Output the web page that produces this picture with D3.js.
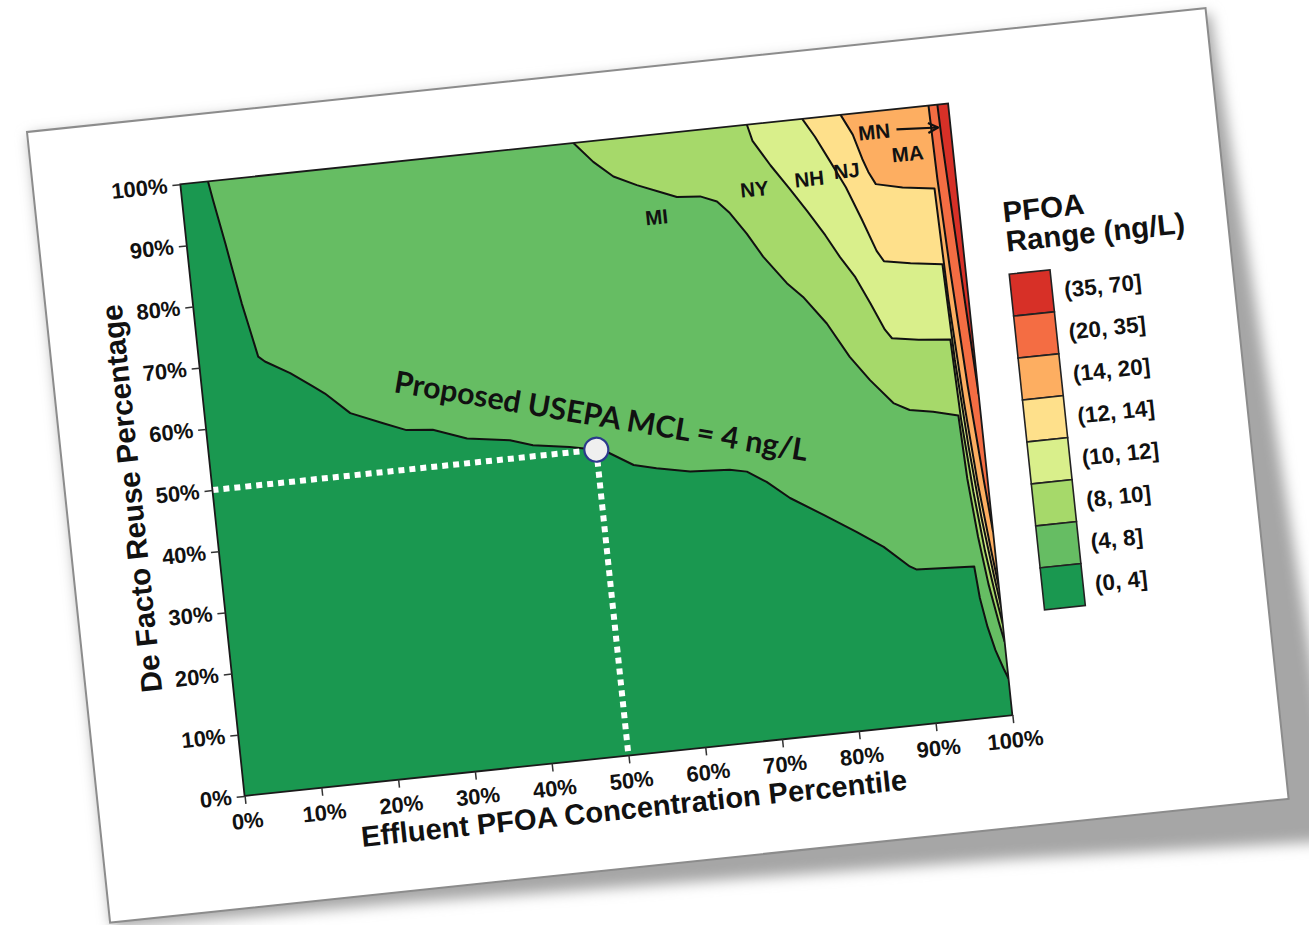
<!DOCTYPE html>
<html><head><meta charset="utf-8">
<script src="https://cdn.jsdelivr.net/npm/d3@7"></script>
<style>body{margin:0;background:#fff;overflow:hidden}svg{display:block}</style>
</head><body>
<svg id="chart" width="1309" height="925"></svg>
<script>
// ---------------- data ----------------
const xTicks = [0,10,20,30,40,50,60,70,80,90,100];
const yTicks = [0,10,20,30,40,50,60,70,80,90,100];
const levels = [4, 8, 10, 12, 14, 20, 35];
const binLabels = ["(0, 4]","(4, 8]","(8, 10]","(10, 12]","(12, 14]","(14, 20]","(20, 35]","(35, 70]"];

// contour lines: [effluent percentile %, reuse %]
const contour4 = [[3.6,100],[4.0,96.9],[5.0,89.7],[5.5,85.8],[6.3,79.7],[7.0,75.3],[7.7,70.8],[8.5,69.9],[11.6,67.6],[14.4,65.0],[15.8,63.7],[18.8,60.1],[22.9,57.9],[25.8,56.4],[29.2,56.0],[33.5,54.0],[39.0,53.0],[41.9,51.8],[46.6,50.9],[50,50],[51.3,49.5],[54.6,46.9],[57.5,46.0],[61.8,44.9],[66.9,44.5],[69.1,43.9],[71.5,41.9],[74.3,38.9],[78.4,35.6],[82.4,32.3],[85.7,29.4],[88.8,25.8],[89.6,25.2],[97.1,24.7],[97.4,19.5],[98.0,14.7],[98.7,10.8],[99.5,7.7],[100,6.0]];
const contour8 = [[51.2,100],[53.5,96.6],[55.9,93.9],[58.8,92.1],[61.7,90.6],[63.8,89.5],[66.8,89.2],[68.9,88.1],[70.4,86.0],[72.3,82.4],[74.1,78.4],[76.8,73.7],[78.7,71.2],[81.4,66.5],[83.9,60.7],[86.2,56.6],[88.9,52.5],[90.9,51.1],[93.9,50.4],[97.1,49.4],[97.4,39.0],[98.0,29.4],[98.7,21.6],[99.5,15.4],[100,12.0]];
const contour10 = [[73.8,100],[74.3,97.3],[76.3,93.0],[78.4,89.0],[80.4,85.0],[82.4,80.8],[84.0,77.0],[85.7,73.5],[87.3,69.0],[88.8,64.5],[89.6,63.0],[93.0,62.3],[97.1,61.8],[97.4,48.8],[98.0,36.8],[98.7,27.0],[99.5,19.3],[100,15.0]];
const contour12 = [[81.0,100],[82.4,96.9],[84.0,92.7],[85.7,88.2],[87.3,82.8],[88.8,77.4],[89.6,75.6],[93.0,74.8],[97.1,74.1],[97.4,58.5],[98.0,44.1],[98.7,32.4],[99.5,23.1],[100,18.0]];
const contour14 = [[86.0,100],[87.3,96.6],[88.2,92.5],[88.8,90.3],[89.6,88.2],[93.0,87.2],[97.1,86.5],[97.4,68.3],[98.0,51.5],[98.7,37.8],[99.5,27.0],[100,21.0]];
const contour20 = [[97.45,100],[97.6,88.0],[98.0,73.5],[98.7,54.0],[99.5,38.5],[100,30.0]];
const contour35 = [[98.6,100],[98.7,94.5],[99.1,80.5],[99.5,67.4],[100,52.5]];
const contours = [contour4, contour8, contour10, contour12, contour14, contour20, contour35];

const stateNames = ["MI","NY","NH","NJ","MA","MN"];
const stateU = [60.9, 73.9, 81.1, 86.0, 94.1, 90.1];
const stateV = [85.4, 88.3, 89.0, 89.7, 91.4, 95.5];
const arrowFrom = [93.0, 96.7];
const arrowTo = [98.4, 96.3];
const mclPoint = [50, 50];
const mclText = "Proposed USEPA MCL = 4 ng/L";
const mclTextAt = [24.6, 62.8];

// ---------------- drawing ----------------
const colors = d3.schemeRdYlGn[8].slice().reverse(); // (0,4] ... (35,70]
const FONT = "'Liberation Sans', Arial, Helvetica, sans-serif";
const svg = d3.select("#chart");
const defs = svg.append("defs");
defs.append("filter").attr("id","blur").attr("x","-20%").attr("y","-20%").attr("width","140%").attr("height","140%")
  .append("feGaussianBlur").attr("stdDeviation",7);

const W = 1185, H = 795;
const card = svg.append("g").attr("transform","translate(27,132) rotate(-6)");
card.append("polygon")
  .attr("points",[[2,4],[1189,6],[1232,842],[900,826],[300,806],[2,800]].map(p=>p.join(",")).join(" "))
  .attr("fill","#a6a6a6").attr("filter","url(#blur)");
card.append("rect").attr("width",W).attr("height",H).attr("fill","#fff")
  .attr("stroke","#8c8c8c").attr("stroke-width",2);

const x = d3.scaleLinear().domain([0,100]).range([147,919]);
const y = d3.scaleLinear().domain([0,100]).range([683,68]);

defs.append("clipPath").attr("id","plotclip").append("rect")
  .attr("x",x(0)).attr("y",y(100)).attr("width",x(100)-x(0)).attr("height",y(0)-y(100));

const plot = card.append("g").attr("clip-path","url(#plotclip)");
plot.append("rect").attr("x",x(0)).attr("y",y(100)).attr("width",x(100)-x(0)).attr("height",y(0)-y(100))
  .attr("fill",colors[0]);

const line = d3.line().x(d=>x(d[0])).y(d=>y(d[1]));
contours.forEach((c,i)=>{
  plot.append("path").attr("d", line(c.concat([[100,100]])) + "Z").attr("fill", colors[i+1]);
});
contours.forEach(c=>{
  plot.append("path").attr("d", line(c)).attr("fill","none")
    .attr("stroke","#111").attr("stroke-width",2).attr("stroke-linejoin","round");
});

// dotted guide lines
plot.append("path").attr("d", line([[0,mclPoint[1]],mclPoint]))
  .attr("stroke","#fff").attr("stroke-width",6).attr("stroke-dasharray","6,5").attr("fill","none");
plot.append("path").attr("d", line([mclPoint,[mclPoint[0],0]]))
  .attr("stroke","#fff").attr("stroke-width",6).attr("stroke-dasharray","6,5").attr("fill","none");

// border
card.append("rect").attr("x",x(0)).attr("y",y(100)).attr("width",x(100)-x(0)).attr("height",y(0)-y(100))
  .attr("fill","none").attr("stroke","#1a1a1a").attr("stroke-width",1.8);

card.append("circle").attr("cx",x(mclPoint[0])).attr("cy",y(mclPoint[1])).attr("r",12)
  .attr("fill","#efefef").attr("stroke","#2b3a8c").attr("stroke-width",2.2);

// state labels
stateNames.forEach((s,i)=>{
  card.append("text").attr("x",x(stateU[i])).attr("y",y(stateV[i])).attr("text-anchor","middle")
    .attr("font-family",FONT).attr("font-weight","bold").attr("font-size",20.5).attr("fill","#111").text(s);
});
defs.append("marker").attr("id","arr").attr("viewBox","0 0 12 12").attr("refX",11).attr("refY",6)
  .attr("markerWidth",12).attr("markerHeight",12).attr("markerUnits","userSpaceOnUse").attr("orient","auto")
  .append("path").attr("d","M1,1 L11,6 L1,11").attr("fill","none").attr("stroke","#111").attr("stroke-width",2.2);
card.append("path").attr("d", line([arrowFrom, arrowTo])).attr("stroke","#111").attr("stroke-width",2.2)
  .attr("fill","none").attr("marker-end","url(#arr)");

// main annotation
function fit(sel, target){ const w = sel.node().getComputedTextLength(); sel.attr("font-size", (+sel.attr("font-size"))*target/w); }
const mt = card.append("text").attr("transform",`translate(${x(mclTextAt[0])},${y(mclTextAt[1])}) rotate(15.5)`)
  .attr("font-family","Lato, 'Open Sans', sans-serif").attr("font-weight","bold").attr("font-size",30)
  .attr("fill","#111").text(mclText);
fit(mt, 419);

// axes
const xAxis = card.append("g").attr("transform",`translate(0,${y(0)})`)
  .call(d3.axisBottom(x).tickValues(xTicks).tickFormat(d=>d+"%").tickSize(8).tickPadding(9).tickSizeOuter(0));
const yAxis = card.append("g").attr("transform",`translate(${x(0)},0)`)
  .call(d3.axisLeft(y).tickValues(yTicks).tickFormat(d=>d+"%").tickSize(8).tickPadding(5).tickSizeOuter(0));
[xAxis,yAxis].forEach(a=>{
  a.select(".domain").remove();
  a.attr("font-family",FONT).attr("font-size",22).attr("font-weight","bold");
  a.selectAll("text").attr("fill","#111");
  a.selectAll("line").attr("stroke","#333").attr("stroke-width",1.5);
});

const xt = card.append("text").attr("x",x(50)).attr("y",746).attr("text-anchor","middle")
  .attr("font-family",FONT).attr("font-weight","bold").attr("font-size",29).attr("fill","#111")
  .text("Effluent PFOA Concentration Percentile");
fit(xt, 549);
const yt = card.append("text").attr("transform",`translate(76,${(y(0)+y(100))/2}) rotate(-90)`).attr("text-anchor","middle")
  .attr("font-family",FONT).attr("font-weight","bold").attr("font-size",29).attr("fill","#111")
  .text("De Facto Reuse Percentage");
fit(yt, 390);

// legend
const lg = card.append("g");
const t1 = lg.append("text").attr("x",962).attr("y",192).attr("font-family",FONT).attr("font-weight","bold")
  .attr("font-size",28).attr("fill","#111").text("PFOA");
const t2 = lg.append("text").attr("x",962).attr("y",221.5).attr("font-family",FONT).attr("font-weight","bold")
  .attr("font-size",28).attr("fill","#111").text("Range (ng/L)");
fit(t2, 180); t1.attr("font-size", t2.attr("font-size"));
const boxH = 42.2, boxW = 41, boxTop = 244;
binLabels.slice().reverse().forEach((lab,i)=>{
  const ci = binLabels.length-1-i;
  lg.append("rect").attr("x",962).attr("y",boxTop+i*boxH).attr("width",boxW).attr("height",boxH)
    .attr("fill",colors[ci]).attr("stroke","#222").attr("stroke-width",1.6);
  lg.append("text").attr("x",1015).attr("y",boxTop+i*boxH+boxH/2).attr("dy","0.36em")
    .attr("font-family",FONT).attr("font-weight","bold").attr("font-size",22.5).attr("fill","#111").text(lab);
});
</script>
</body></html>
